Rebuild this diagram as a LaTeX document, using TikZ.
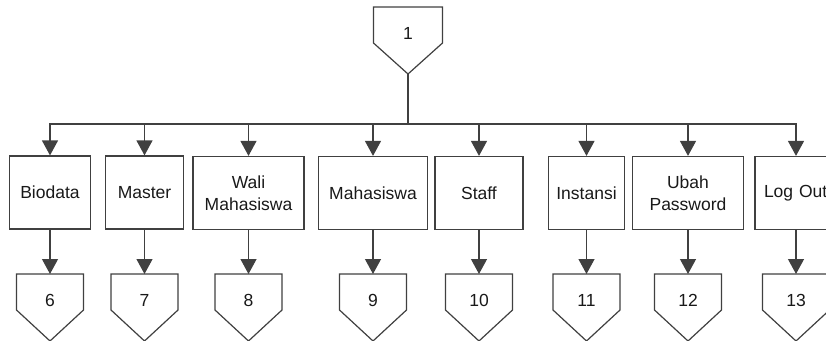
\documentclass[tikz,border=0pt]{standalone}
\usepackage{fontspec}
\setmainfont{Liberation Sans}
\usetikzlibrary{arrows.meta}
\begin{document}
\begin{tikzpicture}[x=1pt,y=-1pt,
  line width=1.2pt,
  ink/.style={draw=black!75},
  menubox/.style={ink,rectangle,minimum height=73pt,inner sep=0pt,
    font=\fontsize{17.5}{22}\selectfont,text=black!90,align=center},
  lbl/.style={font=\fontsize{17.5}{21}\selectfont,text=black!90,inner sep=0pt},
  arr/.style={ink,-{Triangle[width=16pt,length=15pt]}},
]
\useasboundingbox (0,0) rectangle (826,340);
\clip (0,0) rectangle (826,340);

% off-page connector shape: centre x #1, top y #2, width #3
\newcommand{\offpage}[5]{%
  \draw[ink,fill=white] (#1-#3/2,#2) -- ++(#3,0) -- ++(0,36) -- ++(-#3/2,31) -- ++(-#3/2,-31) -- cycle;
  \coordinate (#4top) at (#1,#2);
  \coordinate (#4apex) at (#1,#2+67);
  \node[lbl] (#4) at (#1,#2+26) {#5};
}

% top connector
\offpage{408}{7}{69}{p1}{1}

% menu boxes
\node[menubox,minimum width=81pt]  (m6)  at (50,192.5) {Biodata};
\node[menubox,minimum width=78pt]  (m7)  at (144.5,192.5) {Master};
\node[menubox,minimum width=111pt] (m8)  at (248.5,193) {Wali\\Mahasiswa};
\node[menubox,minimum width=109pt] (m9)  at (373,193) {Mahasiswa};
\node[menubox,minimum width=88pt]  (m10) at (479,193) {Staff};
\node[menubox,minimum width=76pt]  (m11) at (586.5,193) {Instansi};
\node[menubox,minimum width=111pt] (m12) at (688,193) {Ubah\\Password};
\node[menubox,minimum width=82pt,text width=64pt,align=left] (m13) at (796,193) {Log Out};

% lower connectors
\offpage{50}{274}{67}{p6}{6}
\offpage{144.5}{274}{67}{p7}{7}
\offpage{248.5}{274}{67}{p8}{8}
\offpage{373}{274}{67}{p9}{9}
\offpage{479}{274}{67}{p10}{10}
\offpage{586.5}{274}{67}{p11}{11}
\offpage{688}{274}{67}{p12}{12}
\offpage{796}{274}{67}{p13}{13}

% tree connectors
\foreach \k in {6,...,13}{
  \draw[arr] (p1apex) -- ++(0,50) -| (m\k.north);
  \draw[arr] (m\k.south) -- (p\k top);
}
\end{tikzpicture}
\end{document}
